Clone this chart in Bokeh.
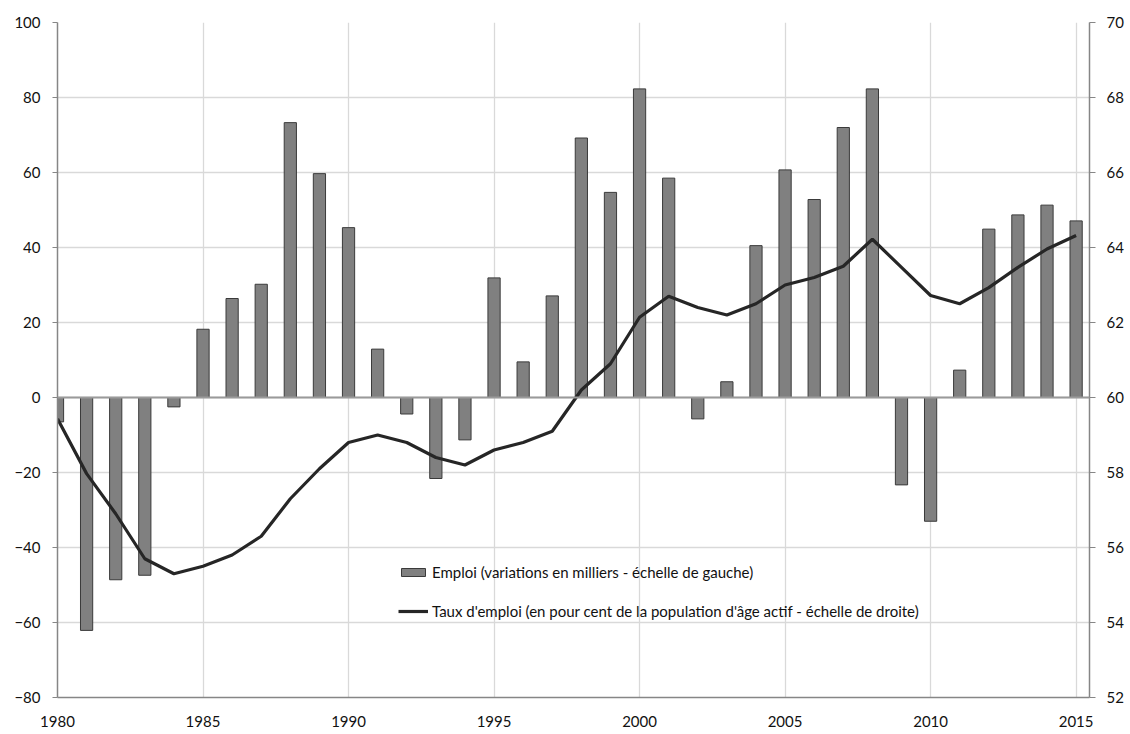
from bokeh.plotting import figure
from bokeh.models import (Range1d, LinearAxis, FixedTicker, Span, Legend,
                          LegendItem, ColumnDataSource)
from bokeh.embed import file_html
from bokeh.resources import INLINE

years = list(range(1980, 2016))
emploi = [-6.5, -62.1, -48.6, -47.4, -2.5, 18.2, 26.4, 30.2, 73.3, 59.7,
          45.3, 12.9, -4.4, -21.6, -11.3, 31.9, 9.5, 27.1, 69.2, 54.7,
          82.3, 58.5, -5.7, 4.2, 40.5, 60.7, 52.8, 72.0, 82.3, -23.3,
          -33.0, 7.3, 44.9, 48.7, 51.3, 47.1]
taux = [59.43, 57.97, 56.9, 55.7, 55.3, 55.5, 55.8, 56.3, 57.3, 58.1,
        58.8, 59.0, 58.8, 58.4, 58.2, 58.6, 58.8, 59.1, 60.2, 60.9,
        62.14, 62.7, 62.4, 62.2, 62.5, 63.0, 63.2, 63.5, 64.22, 63.47,
        62.72, 62.5, 62.93, 63.47, 63.96, 64.32]
x_ticks = list(range(1980, 2016, 5))
left_ticks = list(range(-80, 101, 20))
right_ticks = list(range(52, 71, 2))
label_bar = "Emploi (variations en milliers - échelle de gauche)"
label_line = "Taux d'emploi (en pour cent de la population d'âge actif - échelle de droite)"

src = ColumnDataSource(dict(year=years, emploi=emploi, taux=taux))

FONT = "Lato"
AX = "#868686"
GRID = "#d9d9d9"

p = figure(width=1126, height=734, x_range=Range1d(1980, 2015.46),
           y_range=Range1d(-80, 100), output_backend="svg",
           toolbar_location=None, min_border_left=57, min_border_right=36,
           min_border_top=22, min_border_bottom=37)
p.outline_line_color = None
p.background_fill_color = "white"
p.border_fill_color = "white"

p.extra_y_ranges = {"taux": Range1d(52, 70)}

# grids
p.xgrid.ticker = FixedTicker(ticks=x_ticks)
p.ygrid.ticker = FixedTicker(ticks=left_ticks)
p.xgrid.grid_line_color = GRID
p.ygrid.grid_line_color = GRID
p.xgrid.grid_line_width = 1.3
p.ygrid.grid_line_width = 1.3

# axes
xa = p.xaxis[0]
xa.ticker = FixedTicker(ticks=x_ticks)
xa.axis_line_color = AX
xa.axis_line_width = 1.3
xa.major_tick_line_color = None
xa.minor_tick_line_color = None
xa.major_tick_out = 0
xa.major_label_standoff = 18

ya = p.yaxis[0]
ya.ticker = FixedTicker(ticks=left_ticks)
ya.axis_line_color = AX
ya.axis_line_width = 1.5
ya.major_tick_line_color = AX
ya.major_tick_out = 5
ya.major_tick_in = 0
ya.minor_tick_line_color = None
ya.major_label_standoff = 12

ra = LinearAxis(y_range_name="taux", ticker=FixedTicker(ticks=right_ticks))
ra.axis_line_color = AX
ra.axis_line_width = 1.5
ra.major_tick_line_color = AX
ra.major_tick_out = 6
ra.major_tick_in = 0
ra.minor_tick_line_color = None
ra.major_label_standoff = 11
p.add_layout(ra, "right")

for ax in (xa, ya, ra):
    ax.major_label_text_font = FONT
    ax.major_label_text_font_size = "15px"
    ax.major_label_text_color = "#111111"

# zero line
p.add_layout(Span(location=0, dimension="width", line_color="#9a9a9a",
                  line_width=2))

bars = p.vbar(x="year", top="emploi", bottom=0, width=0.42, source=src,
              fill_color="#808080", line_color="#3a3a3a", line_width=1)
ln = p.line(x="year", y="taux", y_range_name="taux", source=src,
            line_color="#262626", line_width=3.2)

legend = Legend(items=[LegendItem(label=label_bar, renderers=[bars]),
                       LegendItem(label=label_line, renderers=[ln])],
                location=(341, 76), orientation="vertical")
legend.border_line_color = None
legend.background_fill_alpha = 0
legend.padding = 0
legend.margin = 0
legend.spacing = 19
legend.glyph_width = 30
legend.glyph_height = 10
legend.label_height = 20
legend.label_standoff = 4
legend.label_text_font = FONT
legend.label_text_font_size = "15px"
legend.label_text_color = "#111111"
p.add_layout(legend, "center")

open("out.html", "w").write(file_html(p, INLINE))
